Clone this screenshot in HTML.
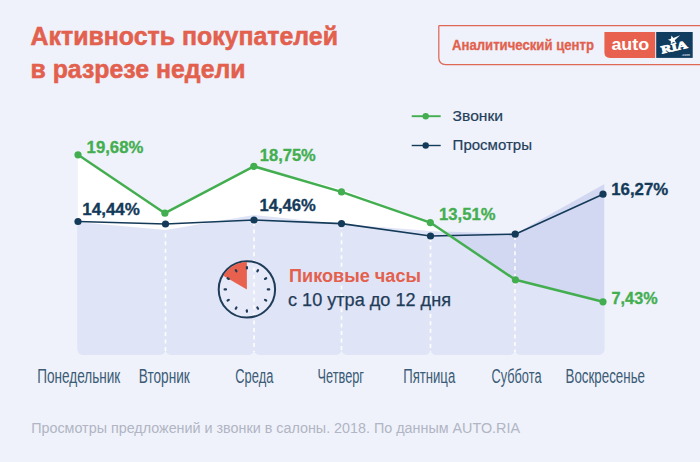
<!DOCTYPE html>
<html lang="ru">
<head>
<meta charset="utf-8">
<title>Активность покупателей в разрезе недели</title>
<style>
  html, body { margin: 0; padding: 0; background: #eff2fa; }
  body { width: 700px; height: 462px; overflow: hidden; font-family: "Liberation Sans", sans-serif; }
  svg { display: block; }
  text { font-family: "Liberation Sans", sans-serif; }
  .ttl { font-weight: bold; fill: #e2604d; font-size: 26px; stroke: #e2604d; stroke-width: 0.55px; }
  .day { fill: #3b5b76; font-size: 19.6px; }
  .foot { fill: #b1b5c4; font-size: 15.2px; }
  .leg { fill: #23405b; stroke: #23405b; stroke-width: 0.2px; font-size: 15.2px; }
  .vg { fill: #43ae50; stroke: #43ae50; stroke-width: 0.3px; font-weight: bold; font-size: 15.6px; }
  .vb { fill: #143a59; stroke: #143a59; stroke-width: 0.3px; font-weight: bold; font-size: 15.6px; }
</style>
</head>
<body>
<svg width="700" height="462" viewBox="0 0 700 462">
  <defs>
    <clipPath id="cols">
      <rect x="77.4" y="60" width="88.1" height="294.6" rx="5.5"/>
      <rect x="165.5" y="60" width="88.5" height="294.6" rx="5.5"/>
      <rect x="254" y="60" width="87.5" height="294.6" rx="5.5"/>
      <rect x="341.5" y="60" width="89" height="294.6" rx="5.5"/>
      <rect x="430.5" y="60" width="84.5" height="294.6" rx="5.5"/>
      <rect x="515" y="60" width="89.5" height="294.6" rx="5.5"/>
    </clipPath>
  </defs>
  <rect x="0" y="0" width="700" height="462" fill="#eff2fa"/>

  <!-- area fills -->
  <g clip-path="url(#cols)">
    <!-- under "views" boundary : dark lavender -->
    <polygon fill="#d2d8f1" points="77.4,222 165.5,230 254,215 341.5,224 430.5,231 515,234 604.5,184 604.5,360 77.4,360"/>
    <!-- under "calls" boundary : light lavender -->
    <polygon fill="#dfe4f6" points="77.4,155 165.5,213 254,166 341.5,189 430.5,222 515,280 604.5,301 604.5,360 77.4,360"/>
    <!-- calls-only zone : white -->
    <polygon fill="#ffffff" points="77.4,155 165.5,213 254,166 341.5,189 430.5,222 446,232 430.5,231 341.5,224 254,215 165.5,230 77.4,222"/>
  </g>

  <!-- clock face -->
  <circle cx="246.9" cy="289.4" r="28.2" fill="#e6e9f8"/>

  <!-- dashed column separators -->
  <g stroke="#ffffff" stroke-opacity="0.9" stroke-width="1.7" stroke-dasharray="4 3.57" fill="none">
    <line x1="165.5" y1="226" x2="165.5" y2="352"/>
    <line x1="254" y1="222" x2="254" y2="352"/>
    <line x1="341.5" y1="225" x2="341.5" y2="352"/>
    <line x1="430.5" y1="238" x2="430.5" y2="352"/>
    <line x1="515" y1="236" x2="515" y2="352"/>
  </g>

  <!-- lines -->
  <polyline fill="none" stroke="#143a59" stroke-width="1.6" stroke-linejoin="round" points="78,221.5 165.5,224 254,220 341.5,223.6 430.5,236 515.2,234.2 603,194.2"/>
  <polyline fill="none" stroke="#43ae50" stroke-width="2.45" stroke-linejoin="round" points="78,154.8 164.9,213.2 253.8,166.3 341.5,191.9 430.3,222.6 515.4,279.8 603,301.8"/>
  <g fill="#143a59">
    <circle cx="78" cy="221.5" r="3.6"/><circle cx="165.5" cy="224" r="3.6"/><circle cx="254" cy="220" r="3.6"/>
    <circle cx="341.5" cy="223.6" r="3.6"/><circle cx="430.5" cy="236" r="3.6"/><circle cx="515.2" cy="234.2" r="3.6"/><circle cx="603" cy="194.2" r="3.6"/>
  </g>
  <g fill="#43ae50">
    <circle cx="78" cy="154.8" r="3.6"/><circle cx="164.9" cy="213.2" r="3.6"/><circle cx="253.8" cy="166.3" r="3.6"/>
    <circle cx="341.5" cy="191.9" r="3.6"/><circle cx="430.3" cy="222.6" r="3.6"/><circle cx="515.4" cy="279.8" r="3.6"/><circle cx="603" cy="301.8" r="3.6"/>
  </g>

  <!-- value labels -->
  <text class="vg" x="86.6" y="152.8" textLength="56.8" lengthAdjust="spacingAndGlyphs">19,68%</text>
  <text class="vb" x="82.3" y="214.5" textLength="57.6" lengthAdjust="spacingAndGlyphs">14,44%</text>
  <text class="vg" x="259.8" y="161" textLength="56.0" lengthAdjust="spacingAndGlyphs">18,75%</text>
  <text class="vb" x="259.4" y="210.6" textLength="56.4" lengthAdjust="spacingAndGlyphs">14,46%</text>
  <text class="vg" x="439.1" y="220" textLength="56.4" lengthAdjust="spacingAndGlyphs">13,51%</text>
  <text class="vb" x="611.2" y="194.7" textLength="57.0" lengthAdjust="spacingAndGlyphs">16,27%</text>
  <text class="vg" x="611.6" y="303.5" textLength="46.0" lengthAdjust="spacingAndGlyphs">7,43%</text>

  <!-- title -->
  <text class="ttl" x="30.5" y="45.2" textLength="307.5" lengthAdjust="spacingAndGlyphs">Активность покупателей</text>
  <text class="ttl" x="30.5" y="78.2" textLength="215" lengthAdjust="spacingAndGlyphs">в разрезе недели</text>

  <!-- header box -->
  <path d="M 710 25.5 H 439.3 Q 438.8 25.5 438.8 26 V 57.6 Q 438.8 64.6 445.8 64.6 H 710" fill="none" stroke="#de6857" stroke-width="1.25"/>
  <text x="452" y="49.5" font-weight="bold" font-size="14.2" fill="#e2604d" stroke="#e2604d" stroke-width="0.3" textLength="142" lengthAdjust="spacingAndGlyphs">Аналитический центр</text>
  <!-- logo -->
  <path d="M 604.4 32 H 655.2 V 57.9 H 610 Q 604.4 57.9 604.4 52.3 Z" fill="#e8614e"/>
  <text x="611.4" y="50.2" font-weight="bold" font-size="17" fill="#ffffff" textLength="37.8" lengthAdjust="spacingAndGlyphs">auto</text>
  <rect x="656.2" y="32" width="36.5" height="25.9" fill="#0f3c5f"/>
  <g transform="translate(662 53.5) rotate(-13)">
    <text x="0" y="0" font-weight="bold" font-size="10.8" fill="#ffffff" stroke="#ffffff" stroke-width="0.8" textLength="26.5" lengthAdjust="spacingAndGlyphs" style="font-family:'Liberation Serif',serif">RIA</text>
  </g>
  <polygon fill="#ffffff" points="671.46,35.44 673.39,38.05 680.17,35.27 674.69,40.15 676.20,43.02 673.11,42.04 670.84,44.36 670.82,41.11 667.91,39.67 670.99,38.65"/>
  <text x="681.5" y="56" font-size="3.6" font-weight="bold" fill="#c9d6e4" textLength="8.6" lengthAdjust="spacingAndGlyphs">.com</text>

  <!-- legend -->
  <line x1="411.7" y1="116.2" x2="440.7" y2="116.2" stroke="#43ae50" stroke-width="1.9"/>
  <circle cx="425.7" cy="116.2" r="3.2" fill="#43ae50"/>
  <line x1="411.7" y1="145.5" x2="440.7" y2="145.5" stroke="#143a59" stroke-width="1.4"/>
  <circle cx="425.7" cy="145.5" r="3.2" fill="#143a59"/>
  <text class="leg" x="452.6" y="121.1" textLength="50.4" lengthAdjust="spacingAndGlyphs">Звонки</text>
  <text class="leg" x="452.6" y="150" textLength="79.4" lengthAdjust="spacingAndGlyphs">Просмотры</text>

  <!-- clock -->
  <circle cx="246.9" cy="289.4" r="28.2" fill="none" stroke="#1f3c59" stroke-width="2"/>
  <path d="M 246.9 289.4 L 246.9 262.10 A 27.3 27.3 0 0 0 223.26 275.75 Z" fill="#e8614e"/>
  <g stroke="#1f3c59" stroke-width="2.2" stroke-linecap="round">
    <line x1="246.90" y1="268.50" x2="246.90" y2="267.10"/>
    <line x1="257.35" y1="271.30" x2="258.05" y2="270.09"/>
    <line x1="265.00" y1="278.95" x2="266.21" y2="278.25"/>
    <line x1="267.80" y1="289.40" x2="269.20" y2="289.40"/>
    <line x1="265.00" y1="299.85" x2="266.21" y2="300.55"/>
    <line x1="257.35" y1="307.50" x2="258.05" y2="308.71"/>
    <line x1="246.90" y1="310.30" x2="246.90" y2="311.70"/>
    <line x1="236.45" y1="307.50" x2="235.75" y2="308.71"/>
    <line x1="228.80" y1="299.85" x2="227.59" y2="300.55"/>
    <line x1="226.00" y1="289.40" x2="224.60" y2="289.40"/>
    <line x1="228.80" y1="278.95" x2="227.59" y2="278.25"/>
    <line x1="236.45" y1="271.30" x2="235.75" y2="270.09"/>
  </g>
  <text x="289" y="282" font-weight="bold" font-size="18" fill="#e3604d" textLength="132" lengthAdjust="spacingAndGlyphs">Пиковые часы</text>
  <text x="288" y="306.4" font-size="18" fill="#1f3c59" stroke="#1f3c59" stroke-width="0.25" textLength="163" lengthAdjust="spacingAndGlyphs">с 10 утра до 12 дня</text>

  <!-- day labels -->
  <text class="day" x="37.3" y="383.4" textLength="83" lengthAdjust="spacingAndGlyphs">Понедельник</text>
  <text class="day" x="138.8" y="383.4" textLength="51" lengthAdjust="spacingAndGlyphs">Вторник</text>
  <text class="day" x="235.3" y="383.4" textLength="38" lengthAdjust="spacingAndGlyphs">Среда</text>
  <text class="day" x="317.5" y="383.4" textLength="46.5" lengthAdjust="spacingAndGlyphs">Четверг</text>
  <text class="day" x="403.2" y="383.4" textLength="52" lengthAdjust="spacingAndGlyphs">Пятница</text>
  <text class="day" x="491.5" y="383.4" textLength="50" lengthAdjust="spacingAndGlyphs">Суббота</text>
  <text class="day" x="565.5" y="383.4" textLength="79.5" lengthAdjust="spacingAndGlyphs">Воскресенье</text>

  <!-- footer -->
  <text class="foot" x="31.2" y="432.6" textLength="488.8" lengthAdjust="spacingAndGlyphs">Просмотры предложений и звонки в салоны. 2018. По данным AUTO.RIA</text>
</svg>
</body>
</html>
